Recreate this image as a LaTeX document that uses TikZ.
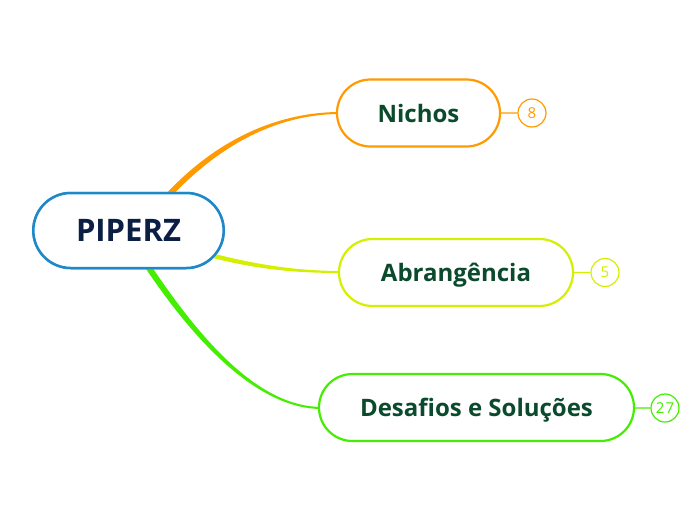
\documentclass[tikz,border=0pt]{standalone}
\usepackage{fontspec}
\setmainfont{Open Sans}
\usetikzlibrary{shapes.misc,calc}
\definecolor{rootblue}{HTML}{1E88C8}
\definecolor{rootink}{HTML}{0B1F45}
\definecolor{txtgreen}{HTML}{0B4A2C}
\definecolor{corange}{HTML}{FF9A00}
\definecolor{cyellow}{HTML}{D4F000}
\definecolor{cgreen}{HTML}{44EE00}
\tikzset{
  rootbox/.style={rounded rectangle, draw=rootblue, line width=2.5pt, fill=white, minimum width=197pt, minimum height=75pt, font=\fontsize{31}{36}\selectfont\bfseries, text=rootink, text height=22pt, text depth=0pt},
  topic/.style={rounded rectangle, line width=2.2pt, fill=white, font=\fontsize{24}{28}\selectfont\bfseries, text=txtgreen, minimum height=67pt, inner xsep=0pt, text height=18pt, text depth=0pt},
  countc/.style={circle, line width=1.2pt, fill=white, minimum size=28pt, inner sep=0pt, font=\fontsize{15}{17}\selectfont},
  countl/.style={line width=1.2pt}
}
\begin{document}
\begin{tikzpicture}[x=1pt,y=-1pt]
\useasboundingbox (0,0) rectangle (696,520);
\node[rootbox] (root) at (128.5,230.5) {PIPERZ};
% connectors (tapered)
\fill[corange] ($(root)+(36,-35)$) .. controls (225,130) and (290,112) .. (340,112) -- (340,114) .. controls (290,114) and (229,134) .. ($(root)+(40,-31)$) -- cycle;
\fill[cyellow] ($(root)+(80.9,22.1)$) .. controls (259.4,265.6) and (300,271) .. (342,271) -- (342,273) .. controls (300,273) and (260.6,270.4) .. ($(root)+(82.1,26.9)$) -- cycle;
\fill[cgreen] ($(root)+(19,29.85)$) .. controls (202.5,343.35) and (260,407) .. (322,407) -- (322,409) .. controls (260,409) and (197.5,346.65) .. ($(root)+(14,33.15)$) -- cycle;
% root drawn again over the connector roots
\node[rootbox] at (root) {PIPERZ};
\node[topic, draw=corange, minimum width=163pt] (n1) at (418.5,113) {Nichos};
\node[topic, draw=cyellow, minimum width=234pt] (n2) at (456,272.5) {Abrangência};
\node[topic, draw=cgreen, minimum width=315pt] (n3) at (476.5,407.5) {Desafios e Soluções};
\node[countc, draw=corange, text=corange] (c1) at (532,113) {8};
\node[countc, draw=cyellow, text=cyellow] (c2) at (605,272.5) {5};
\node[countc, draw=cgreen, text=cgreen] (c3) at (665,408) {2\kern1pt7};
\draw[countl, corange] (n1) -- (c1);
\draw[countl, cyellow] (n2) -- (c2);
\draw[countl, cgreen] (n3) -- (c3);
\end{tikzpicture}
\end{document}
